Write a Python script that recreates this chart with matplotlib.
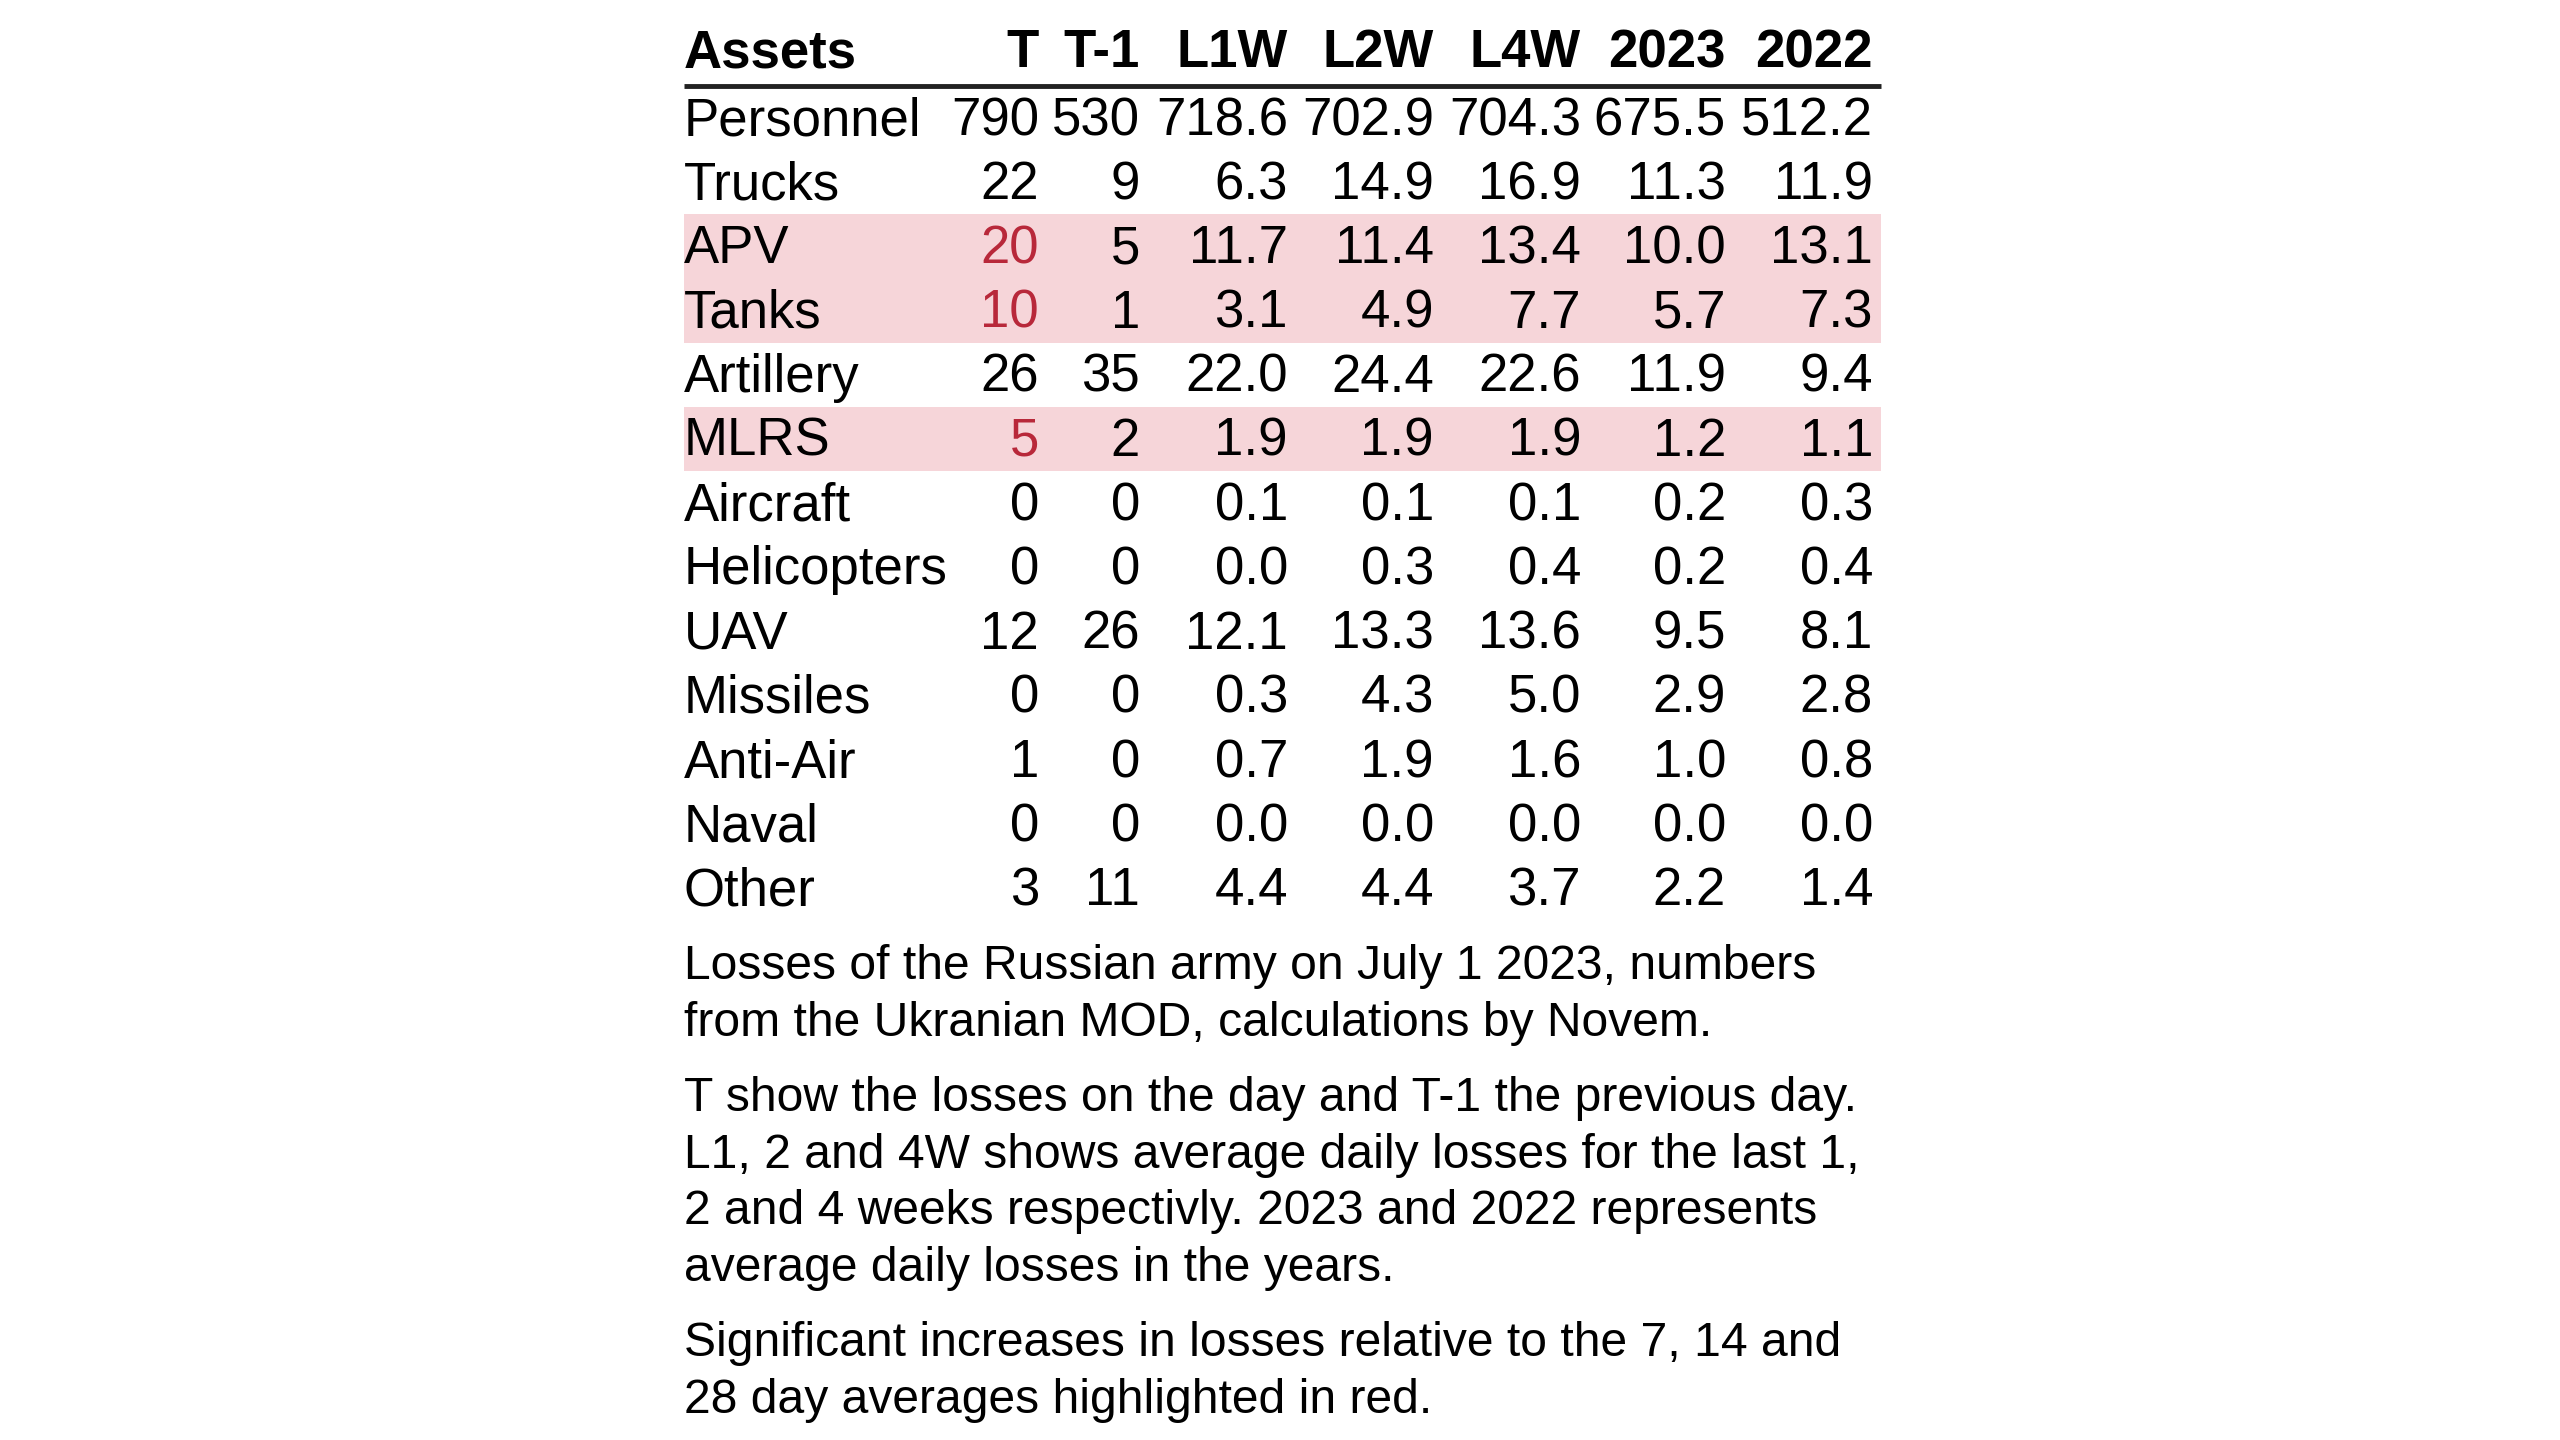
import matplotlib.pyplot as plt

plt.rcParams['font.family'] = ['Liberation Sans', 'DejaVu Sans']

# Données du tableau
columns = ['T', 'T-1', 'L1W', 'L2W', 'L4W', '2023', '2022']
assets = ['Personnel', 'Trucks', 'APV', 'Tanks', 'Artillery', 'MLRS', 'Aircraft',
          'Helicopters', 'UAV', 'Missiles', 'Anti-Air', 'Naval', 'Other']
t_vals = [790, 22, 20, 10, 26, 5, 0, 0, 12, 0, 1, 0, 3]
t1_vals = [530, 9, 5, 1, 35, 2, 0, 0, 26, 0, 0, 0, 11]
l1w_vals = [718.6, 6.3, 11.7, 3.1, 22.0, 1.9, 0.1, 0.0, 12.1, 0.3, 0.7, 0.0, 4.4]
l2w_vals = [702.9, 14.9, 11.4, 4.9, 24.4, 1.9, 0.1, 0.3, 13.3, 4.3, 1.9, 0.0, 4.4]
l4w_vals = [704.3, 16.9, 13.4, 7.7, 22.6, 1.9, 0.1, 0.4, 13.6, 5.0, 1.6, 0.0, 3.7]
y2023_vals = [675.5, 11.3, 10.0, 5.7, 11.9, 1.2, 0.2, 0.2, 9.5, 2.9, 1.0, 0.0, 2.2]
y2022_vals = [512.2, 11.9, 13.1, 7.3, 9.4, 1.1, 0.3, 0.4, 8.1, 2.8, 0.8, 0.0, 1.4]
highlighted = ['APV', 'Tanks', 'MLRS']

notes = [
    "Losses of the Russian army on July 1 2023, numbers\nfrom the Ukranian MOD, calculations by Novem.",
    "T show the losses on the day and T-1 the previous day.\nL1, 2 and 4W shows average daily losses for the last 1,\n"
    "2 and 4 weeks respectivly. 2023 and 2022 represents\naverage daily losses in the years.",
    "Significant increases in losses relative to the 7, 14 and\n28 day averages highlighted in red.",
]

RED = '#B8283A'
PINK = '#F6D5D9'

fig = plt.figure(figsize=(25.6, 14.4), dpi=100)
ax = fig.add_axes([0, 0, 1, 1])
ax.set_xlim(0, 2560)
ax.set_ylim(1440, 0)
ax.axis('off')

left = 684
right = 1881
col_right = [1039, 1140, 1288, 1434, 1581, 1726, 1873]
y_head = 53
y0 = 121
dy = 64.2
fs = 38

ax.text(left, y_head, 'Assets', fontsize=fs, fontweight='bold', va='center', ha='left')
for x, c in zip(col_right, columns):
    ax.text(x, y_head, c, fontsize=fs, fontweight='bold', va='center', ha='right')
ax.plot([left, right], [86, 86], color='#222222', lw=3.5, solid_capstyle='butt')

table = list(zip(t_vals, t1_vals, l1w_vals, l2w_vals, l4w_vals, y2023_vals, y2022_vals))
for i, (name, row) in enumerate(zip(assets, table)):
    y = y0 + i * dy
    yb = y0 - 3 + i * dy
    if name in highlighted:
        ax.fill_between([left, right], yb - dy / 2, yb + dy / 2, color=PINK, lw=0, zorder=0)
    ax.text(left, y, name, fontsize=fs, va='center', ha='left')
    for j, (x, v) in enumerate(zip(col_right, row)):
        label = str(v) if j < 2 else f'{v:.1f}'
        color = RED if (j == 0 and name in highlighted) else 'black'
        ax.text(x, y, label, fontsize=fs, va='center', ha='right', color=color)

note_y = [944, 1076, 1321]
for y, txt in zip(note_y, notes):
    ax.text(left, y, txt, fontsize=34.6, va='top', ha='left', linespacing=1.33)

fig.savefig('out.png', dpi=100, facecolor='white')
